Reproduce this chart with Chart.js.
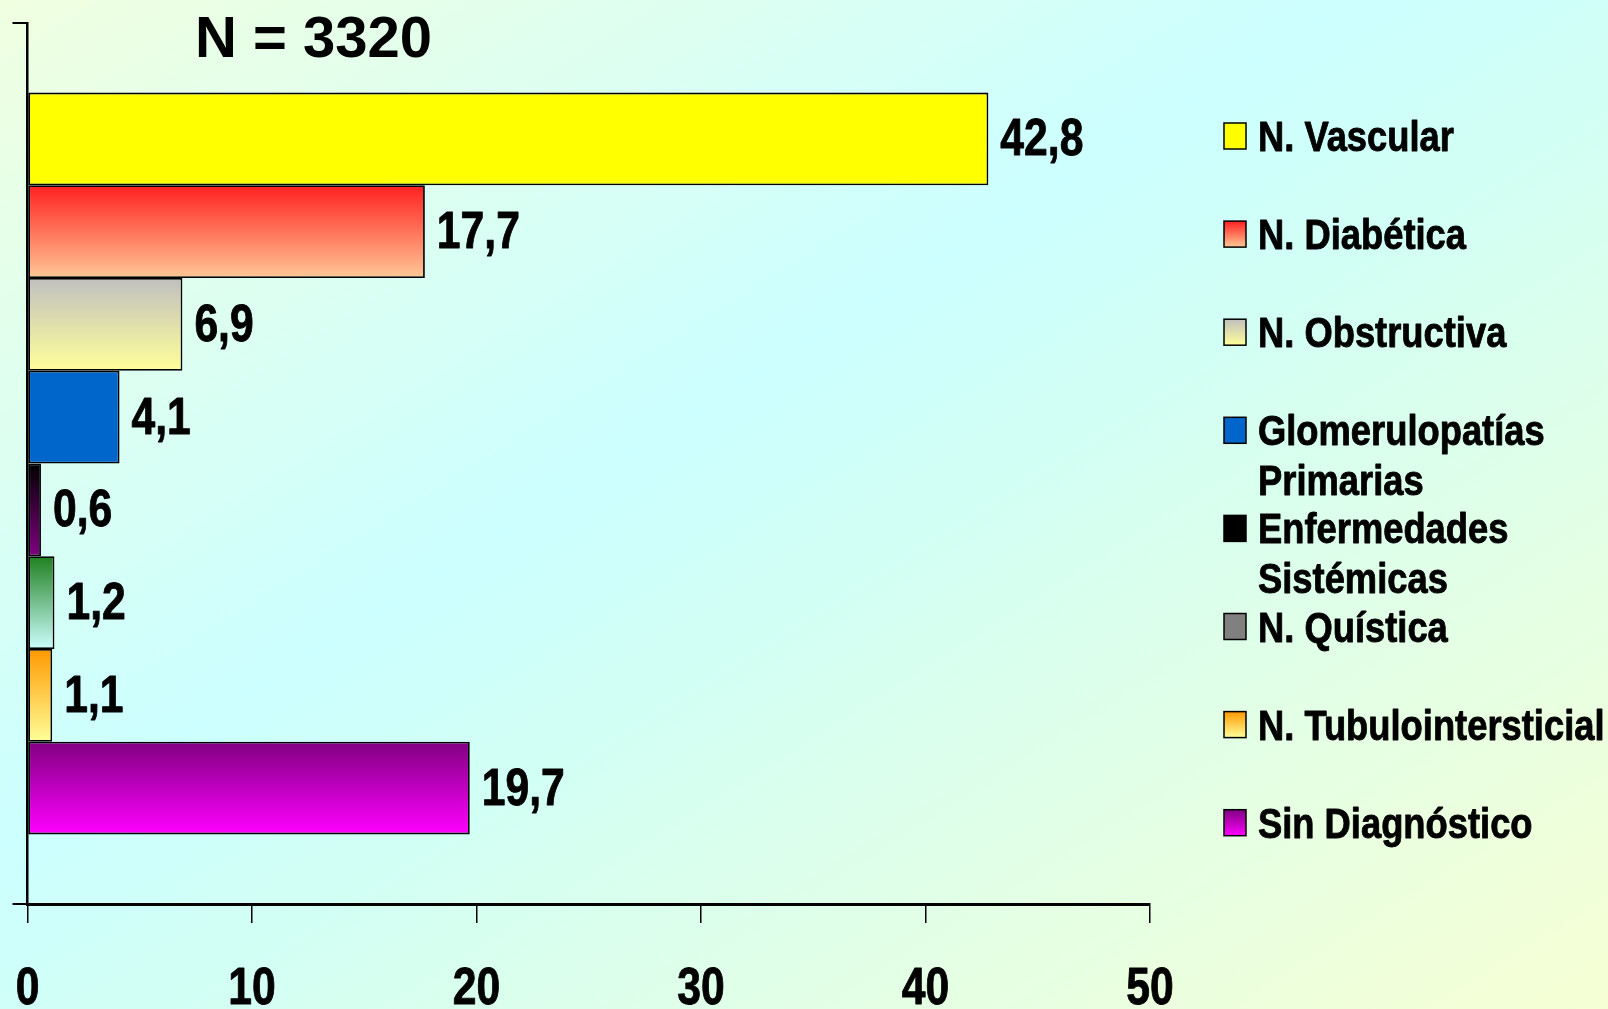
<!DOCTYPE html>
<html>
<head>
<meta charset="utf-8">
<script src="https://cdn.jsdelivr.net/npm/chart.js@4/dist/chart.umd.min.js"></script>
<style>
  html, body { margin: 0; padding: 0; }
  body {
    width: 1608px; height: 1009px; overflow: hidden;
    background: linear-gradient(to bottom right, #F0FFE0 0%, #CCFFFF 42%, #D2FFF4 55%, #F6FFD4 100%);
  }
  #wrap { position: relative; width: 1608px; height: 1009px; }
</style>
</head>
<body>
<div id="wrap"><canvas id="chart"></canvas></div>
<script>
// no hay Arial Narrow: se usa Liberation Sans Bold comprimida en horizontal
const FONT = "'Liberation Sans', Arial, sans-serif";

// datos
const categories = [
    "N. Vascular",
    "N. Diabética",
    "N. Obstructiva",
    "Glomerulopatías\nPrimarias",
    "Enfermedades\nSistémicas",
    "N. Quística",
    "N. Tubulointersticial",
    "Sin Diagnóstico"
];
const values = [42.8, 17.7, 6.9, 4.1, 0.6, 1.2, 1.1, 19.7];
const xTicks = [0, 10, 20, 30, 40, 50];
const titleText = "N = 3320";

// colores (arriba -> abajo del degradado)
const barTop    = ["#FFFF00", "#FF2020", "#C0C0C0", "#0066CC", "#000000", "#1F7F1F", "#FF9900", "#800080"];
const barBottom = ["#FFFF00", "#FFC896", "#FFFF99", "#0066CC", "#800080", "#CCFFFF", "#FFFF99", "#FF00FF"];
const legTop    = ["#FFFF00", "#FF2020", "#C0C0C0", "#0066CC", "#000000", "#808080", "#FF9900", "#800080"];
const legBottom = ["#FFFF00", "#FFC896", "#FFFF99", "#0066CC", "#000000", "#808080", "#FFFF99", "#FF00FF"];

function barFill(c) {
    const i = c.datasetIndex;
    const el = c.element;
    if (!el || el.y == null || !el.height) return barTop[i];
    const g = c.chart.ctx.createLinearGradient(0, el.y - el.height / 2, 0, el.y + el.height / 2);
    g.addColorStop(0, barTop[i]);
    g.addColorStop(1, barBottom[i]);
    return g;
}

const fmt = v => v.toFixed(1).replace(".", ",");

// texto "estrecho"
function narrowText(ctx, text, x, y, size, sx, align) {
    ctx.save();
    ctx.font = "bold " + size + "px " + FONT;
    ctx.textBaseline = "alphabetic";
    ctx.textAlign = align || "left";
    ctx.fillStyle = "#000";
    ctx.strokeStyle = "#000";
    ctx.lineWidth = 0.9;
    ctx.lineJoin = "round";
    ctx.translate(x, y);
    ctx.scale(sx, 1);
    ctx.fillText(text, 0, 0);
    ctx.strokeText(text, 0, 0);
    ctx.restore();
}

// etiquetas de valor + etiquetas del eje x
const valueLabels = {
    id: "valueLabels",
    afterDatasetsDraw(chart) {
        const ctx = chart.ctx;
        chart.data.datasets.forEach((ds, i) => {
            const el = chart.getDatasetMeta(i).data[0];
            narrowText(ctx, fmt(ds.data[0]), el.x + 12, el.y + 16.5, 52, 0.82);
        });
        const xs = chart.scales.x;
        xs.ticks.forEach(t => {
            narrowText(ctx, String(t.value), xs.getPixelForValue(t.value), 1004, 52, 0.82, "center");
        });
    }
};

// titulo + leyenda a la derecha
const sideText = {
    id: "sideText",
    afterDraw(chart) {
        const ctx = chart.ctx;
        ctx.save();
        ctx.font = "bold 58px " + FONT;
        ctx.fillStyle = "#000";
        ctx.textBaseline = "alphabetic";
        ctx.fillText(titleText, 195, 57);

        chart.data.datasets.forEach((ds, i) => {
            const y = 136 + i * 98.1;
            const g = ctx.createLinearGradient(0, y - 13, 0, y + 13);
            g.addColorStop(0, legTop[i]);
            g.addColorStop(1, legBottom[i]);
            ctx.fillStyle = g;
            ctx.fillRect(1224, y - 13, 22, 26);
            ctx.lineWidth = 1.5;
            ctx.strokeStyle = "#000";
            ctx.strokeRect(1224, y - 13, 22, 26);
            ds.label.split("\n").forEach((line, k) => {
                narrowText(ctx, line, 1258, y + 15 + k * 49.5, 43, 0.845);
            });
        });
        ctx.restore();
    }
};

const chart = new Chart(document.getElementById("chart"), {
    type: "bar",
    data: {
        labels: [""],
        datasets: categories.map((cat, i) => ({
            label: cat,
            data: [values[i]],
            backgroundColor: barFill,
            borderColor: "#000",
            borderWidth: 1.8,
            borderSkipped: false
        }))
    },
    options: {
        indexAxis: "y",
        responsive: true,
        maintainAspectRatio: false,
        animation: false,
        categoryPercentage: 0.842,
        barPercentage: 1.0,
        layout: {
            padding: { left: 12.5, right: 458, top: 23, bottom: 86 }
        },
        scales: {
            x: {
                min: 0,
                max: 50,
                afterBuildTicks: axis => { axis.ticks = xTicks.map(v => ({ value: v })); },
                grid: { drawOnChartArea: false, drawTicks: true, tickLength: 19, color: "#000", lineWidth: 1.5 },
                border: { display: true, color: "#000", width: 3 },
                ticks: { display: false }
            },
            y: {
                offset: true,
                grid: { offset: true, drawOnChartArea: false, drawTicks: true, tickLength: 15, color: "#000", lineWidth: 2 },
                border: { display: true, color: "#000", width: 2.5 },
                ticks: { display: false }
            }
        },
        plugins: {
            legend: { display: false },
            tooltip: { enabled: false }
        }
    },
    plugins: [valueLabels, sideText]
});

// segunda pasada para que los degradados usen la posicion real de cada barra
chart.update();
</script>
</body>
</html>
